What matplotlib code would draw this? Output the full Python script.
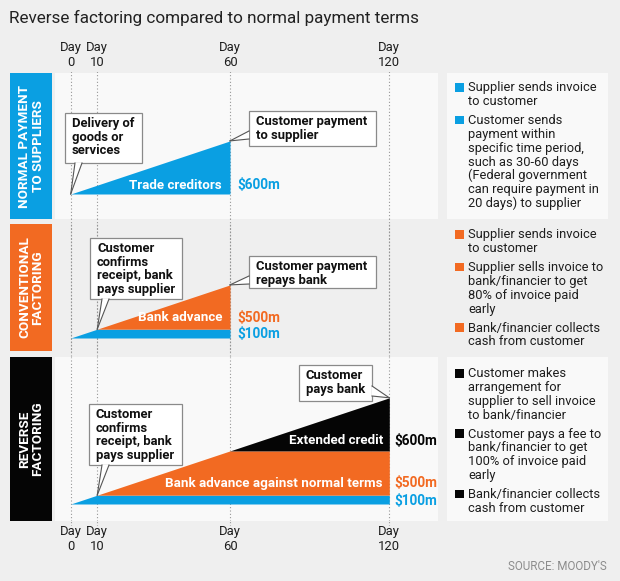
import matplotlib
matplotlib.use("Agg")
import matplotlib.pyplot as plt
import matplotlib.transforms as mtransforms
from matplotlib.patches import Rectangle, Polygon
from matplotlib.lines import Line2D

plt.rcParams['font.family'] = ['Roboto', 'DejaVu Sans']

# ---------------- data ----------------
title = "Reverse factoring compared to normal payment terms"
source = "SOURCE: MOODY'S"

day_ticks = [0, 10, 60, 120]
day_tick_labels = ["0", "10", "60", "120"]

panel_titles = ["NORMAL PAYMENT\nTO SUPPLIERS", "CONVENTIONAL\nFACTORING", "REVERSE\nFACTORING"]

# Normal payment: trade creditors build up until day 60
normal_days = [0, 60]
normal_trade = [0, 600]

# Conventional factoring ($m, cumulative tops)
conv_days = [0, 10, 60]
conv_supplier = [0, 100, 100]
conv_bank = [0, 100, 600]

# Reverse factoring ($m, cumulative tops)
rev_days = [0, 10, 60, 120]
rev_supplier = [0, 100, 100, 100]
rev_bank = [0, 100, 600, 600]
rev_credit = [0, 100, 600, 1200]

segment_names_normal = ["Trade creditors"]
segment_names_conv = ["Bank advance"]
segment_names_rev = ["Extended credit", "Bank advance against normal terms"]
value_labels_normal = ["$600m"]
value_labels_conv = ["$500m", "$100m"]
value_labels_rev = ["$600m", "$500m", "$100m"]

callout_texts = [
    ["Delivery of", "goods or", "services"],
    ["Customer payment", "to supplier"],
    ["Customer", "confirms", "receipt, bank", "pays supplier"],
    ["Customer payment", "repays bank"],
    ["Customer", "confirms", "receipt, bank", "pays supplier"],
    ["Customer", "pays bank"],
]

legend_items = [
    ["Supplier sends invoice\nto customer",
     "Customer sends\npayment within\nspecific time period,\nsuch as 30-60 days\n(Federal government\ncan require payment in\n20 days) to supplier"],
    ["Supplier sends invoice\nto customer",
     "Supplier sells invoice to\nbank/financier to get\n80% of invoice paid\nearly",
     "Bank/financier collects\ncash from customer"],
    ["Customer makes\narrangement for\nsupplier to sell invoice\nto bank/financier",
     "Customer pays a fee to\nbank/financier to get\n100% of invoice paid\nearly",
     "Bank/financier collects\ncash from customer"],
]

# ---------------- style / layout ----------------
BG = "#efefef"
PANEL_BG = "#f9f9f9"
BLUE = "#0a9fe2"
ORANGE = "#f26a22"
BLACK = "#050505"
DOT = "#8e8e8e"
TXT = "#1e1e1e"
DOT_STYLE = dict(color=DOT, lw=0.8, ls=(0, (0.9, 2.1)), dash_capstyle='butt')

W, H = 620, 581
X0 = 70.7          # pixel of day 0
PXD = 2.655        # pixels per day
PXM = 0.0885       # pixels per $m


def fx(px):
    return px / W


def fy(py):
    return 1 - py / H


fig = plt.figure(figsize=(W / 100, H / 100), dpi=100)
fig.patch.set_facecolor(BG)


def add_ax(x0, y0, x1, y1):
    return fig.add_axes([x0 / W, 1 - y1 / H, (x1 - x0) / W, (y1 - y0) / H])


XL = ((55 - X0) / PXD, (438 - X0) / PXD)

# column axes for dotted day lines (visible in gaps)
col = add_ax(55, 70, 438, 526)
col.set_xlim(XL)
col.set_ylim(0, 1)
col.axis('off')
col.set_zorder(0)
for d in day_ticks:
    col.axvline(d, **DOT_STYLE)

specs = [(73, 219, 194, PANEL_BG), (224, 352, 338, 'none'), (357, 521, 504, PANEL_BG)]
axes = []
for top, bot, base, bg in specs:
    ax = add_ax(55, top, 438, bot)
    ax.set_xlim(XL)
    ax.set_ylim(-(bot - base) / PXM, (base - top) / PXM)
    ax.set_facecolor(bg)
    for s in ax.spines.values():
        s.set_visible(False)
    ax.set_xticks([])
    ax.set_yticks([])
    ax.set_zorder(1)
    for d in day_ticks:
        ax.axvline(d, zorder=0.5, **DOT_STYLE)
    axes.append(ax)

ax1, ax2, ax3 = axes

# ---------------- shapes ----------------
ax1.fill_between(normal_days, 0, normal_trade, color=BLUE, lw=0, zorder=2)

ax2.fill_between(conv_days, 0, conv_supplier, color=BLUE, lw=0, zorder=2)
ax2.fill_between(conv_days, conv_supplier, conv_bank, color=ORANGE, lw=0, zorder=2)

ax3.fill_between(rev_days, 0, rev_supplier, color=BLUE, lw=0, zorder=2)
ax3.fill_between(rev_days, rev_supplier, rev_bank, color=ORANGE, lw=0, zorder=2)
ax3.fill_between(rev_days, rev_bank, rev_credit, color=BLACK, lw=0, zorder=2)

# ---------------- in-shape and value labels ----------------
lab_kw = dict(color='white', weight='bold', fontsize=9.6, ha='right', va='center', zorder=3)
val_kw = dict(weight='bold', fontsize=9.8, ha='left', va='center', zorder=3)

ax1.text(57.0, 100, segment_names_normal[0], **lab_kw)
ax1.text(62.6, 100, value_labels_normal[0], color=BLUE, **val_kw)

ax2.text(57.0, 226, segment_names_conv[0], **lab_kw)
ax2.text(62.6, 226, value_labels_conv[0], color=ORANGE, **val_kw)
ax2.text(62.6, 50, value_labels_conv[1], color=BLUE, **val_kw)

ax3.text(117.6, 712, segment_names_rev[0], **lab_kw)
ax3.text(117.6, 237, segment_names_rev[1], **lab_kw)
ax3.text(121.8, 712, value_labels_rev[0], color=BLACK, **val_kw)
ax3.text(121.8, 237, value_labels_rev[1], color=ORANGE, **val_kw)
ax3.text(121.8, 34, value_labels_rev[2], color=BLUE, **val_kw)


# ---------------- callouts ----------------
def callout(ax, lines, box, tip, base):
    x0, y0, x1, y1 = box
    fig.add_artist(Rectangle((fx(x0), fy(y1)), (x1 - x0) / W, (y1 - y0) / H,
                             transform=fig.transFigure, fc='white', ec='#8a8a8a',
                             lw=0.9, zorder=5))
    tip_fig = fig.transFigure.inverted().transform(ax.transData.transform(tip))
    b = [(fx(px), fy(py)) for px, py in base]
    fig.add_artist(Polygon([b[0], tip_fig, b[1]], closed=True, transform=fig.transFigure,
                           fc='white', ec='none', zorder=5.5))
    for p in b:
        fig.add_artist(Line2D([p[0], tip_fig[0]], [p[1], tip_fig[1]],
                              transform=fig.transFigure, color='#555555', lw=0.8, zorder=6))
    for i, ln in enumerate(lines):
        fig.text(fx(x0 + 7), fy(y0 + 10 + i * 13.6 + 4.2), ln, ha='left', va='baseline',
                 fontsize=9.4, weight='bold', color='#111111', zorder=7)


callout(ax1, callout_texts[0], (65, 113, 142, 163), (normal_days[0], normal_trade[0]),
        [(75, 163), (82, 163)])
callout(ax1, callout_texts[1], (249, 111, 376, 146), (normal_days[-1], normal_trade[-1]),
        [(249, 131), (249, 139)])
callout(ax2, callout_texts[2], (90, 238, 182, 299), (conv_days[1], conv_supplier[1]),
        [(102, 299), (109, 299)])
callout(ax2, callout_texts[3], (249, 256, 376, 288), (conv_days[-1], conv_bank[-1]),
        [(249, 276), (249, 284)])
callout(ax3, callout_texts[4], (89, 404, 182, 465), (rev_days[1], rev_supplier[1]),
        [(102, 465), (109, 465)])
callout(ax3, callout_texts[5], (299, 365, 372, 401), (rev_days[-1], rev_credit[-1]),
        [(372, 386), (372, 396)])

# ---------------- left panel labels ----------------
label_boxes = [(73, 219), (224, 351), (357, 521)]
label_colors = [BLUE, ORANGE, BLACK]
for (t, b), c, name in zip(label_boxes, label_colors, panel_titles):
    fig.add_artist(Rectangle((fx(10), fy(b)), 42 / W, (b - t) / H, transform=fig.transFigure,
                             fc=c, ec='none', zorder=2))
    fig.text(fx(31.5), fy((t + b) / 2), name, rotation=90, ha='center', va='center',
             multialignment='center', color='white', weight='bold', fontsize=9.7,
             linespacing=1.0, zorder=3)

# ---------------- legends on the right ----------------
legend_boxes = [(73, 219, PANEL_BG), (224, 351, None), (357, 521, PANEL_BG)]
legend_start = [87, 234, 373]
PITCH = 13.8
GAP = 19
for (t, b, bg), c, items, y in zip(legend_boxes, label_colors, legend_items, legend_start):
    if bg:
        fig.add_artist(Rectangle((fx(447), fy(b)), 161 / W, (b - t) / H,
                                 transform=fig.transFigure, fc=bg, ec='none', zorder=2))
    for item in items:
        fig.add_artist(Rectangle((fx(455), fy(y + 4.5)), 8.5 / W, 8.5 / H,
                                 transform=fig.transFigure, fc=c, ec='none', zorder=3))
        lines = item.split("\n")
        for i, ln in enumerate(lines):
            fig.text(fx(468), fy(y + i * PITCH + 4.3), ln, ha='left', va='baseline',
                     fontsize=9.3, color=TXT, zorder=3)
        y += (len(lines) - 1) * PITCH + GAP

# ---------------- day labels ----------------
trans = mtransforms.blended_transform_factory(col.transData, fig.transFigure)
for d, lab in zip(day_ticks, day_tick_labels):
    for ydays, ynum in [(48, 62), (532, 546)]:
        col.text(d, fy(ydays), "Day", transform=trans, ha='center', va='center',
                 fontsize=9.4, color=TXT)
        col.text(d, fy(ynum), lab, transform=trans, ha='center', va='center',
                 fontsize=9.4, color=TXT)

# ---------------- title and source ----------------
fig.text(fx(9), fy(18), title, ha='left', va='center', fontsize=12.3, color='#222222')
fig.text(fx(607), fy(567), source, ha='right', va='center', fontsize=8.4, color='#8c8c8c')

fig.savefig("out.png", dpi=100, facecolor=BG)
